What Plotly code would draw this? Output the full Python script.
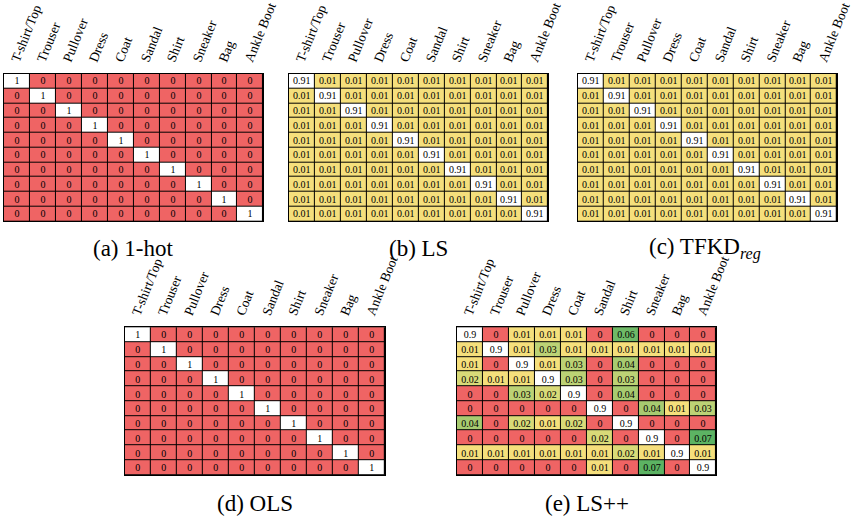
import plotly.graph_objects as go

categories = ["T-shirt/Top", "Trouser", "Pullover", "Dress", "Coat",
              "Sandal", "Shirt", "Sneaker", "Bag", "Ankle Boot"]

onehot = [
    [1, 0, 0, 0, 0, 0, 0, 0, 0, 0],
    [0, 1, 0, 0, 0, 0, 0, 0, 0, 0],
    [0, 0, 1, 0, 0, 0, 0, 0, 0, 0],
    [0, 0, 0, 1, 0, 0, 0, 0, 0, 0],
    [0, 0, 0, 0, 1, 0, 0, 0, 0, 0],
    [0, 0, 0, 0, 0, 1, 0, 0, 0, 0],
    [0, 0, 0, 0, 0, 0, 1, 0, 0, 0],
    [0, 0, 0, 0, 0, 0, 0, 1, 0, 0],
    [0, 0, 0, 0, 0, 0, 0, 0, 1, 0],
    [0, 0, 0, 0, 0, 0, 0, 0, 0, 1],
]

ls = [
    [0.91, 0.01, 0.01, 0.01, 0.01, 0.01, 0.01, 0.01, 0.01, 0.01],
    [0.01, 0.91, 0.01, 0.01, 0.01, 0.01, 0.01, 0.01, 0.01, 0.01],
    [0.01, 0.01, 0.91, 0.01, 0.01, 0.01, 0.01, 0.01, 0.01, 0.01],
    [0.01, 0.01, 0.01, 0.91, 0.01, 0.01, 0.01, 0.01, 0.01, 0.01],
    [0.01, 0.01, 0.01, 0.01, 0.91, 0.01, 0.01, 0.01, 0.01, 0.01],
    [0.01, 0.01, 0.01, 0.01, 0.01, 0.91, 0.01, 0.01, 0.01, 0.01],
    [0.01, 0.01, 0.01, 0.01, 0.01, 0.01, 0.91, 0.01, 0.01, 0.01],
    [0.01, 0.01, 0.01, 0.01, 0.01, 0.01, 0.01, 0.91, 0.01, 0.01],
    [0.01, 0.01, 0.01, 0.01, 0.01, 0.01, 0.01, 0.01, 0.91, 0.01],
    [0.01, 0.01, 0.01, 0.01, 0.01, 0.01, 0.01, 0.01, 0.01, 0.91],
]

tfkd = [
    [0.91, 0.01, 0.01, 0.01, 0.01, 0.01, 0.01, 0.01, 0.01, 0.01],
    [0.01, 0.91, 0.01, 0.01, 0.01, 0.01, 0.01, 0.01, 0.01, 0.01],
    [0.01, 0.01, 0.91, 0.01, 0.01, 0.01, 0.01, 0.01, 0.01, 0.01],
    [0.01, 0.01, 0.01, 0.91, 0.01, 0.01, 0.01, 0.01, 0.01, 0.01],
    [0.01, 0.01, 0.01, 0.01, 0.91, 0.01, 0.01, 0.01, 0.01, 0.01],
    [0.01, 0.01, 0.01, 0.01, 0.01, 0.91, 0.01, 0.01, 0.01, 0.01],
    [0.01, 0.01, 0.01, 0.01, 0.01, 0.01, 0.91, 0.01, 0.01, 0.01],
    [0.01, 0.01, 0.01, 0.01, 0.01, 0.01, 0.01, 0.91, 0.01, 0.01],
    [0.01, 0.01, 0.01, 0.01, 0.01, 0.01, 0.01, 0.01, 0.91, 0.01],
    [0.01, 0.01, 0.01, 0.01, 0.01, 0.01, 0.01, 0.01, 0.01, 0.91],
]

ols = [
    [1, 0, 0, 0, 0, 0, 0, 0, 0, 0],
    [0, 1, 0, 0, 0, 0, 0, 0, 0, 0],
    [0, 0, 1, 0, 0, 0, 0, 0, 0, 0],
    [0, 0, 0, 1, 0, 0, 0, 0, 0, 0],
    [0, 0, 0, 0, 1, 0, 0, 0, 0, 0],
    [0, 0, 0, 0, 0, 1, 0, 0, 0, 0],
    [0, 0, 0, 0, 0, 0, 1, 0, 0, 0],
    [0, 0, 0, 0, 0, 0, 0, 1, 0, 0],
    [0, 0, 0, 0, 0, 0, 0, 0, 1, 0],
    [0, 0, 0, 0, 0, 0, 0, 0, 0, 1],
]

lspp = [
    [0.9, 0, 0.01, 0.01, 0.01, 0, 0.06, 0, 0, 0],
    [0.01, 0.9, 0.01, 0.03, 0.01, 0.01, 0.01, 0.01, 0.01, 0.01],
    [0.01, 0, 0.9, 0.01, 0.03, 0, 0.04, 0, 0, 0],
    [0.02, 0.01, 0.01, 0.9, 0.03, 0, 0.03, 0, 0, 0],
    [0, 0, 0.03, 0.02, 0.9, 0, 0.04, 0, 0, 0],
    [0, 0, 0, 0, 0, 0.9, 0, 0.04, 0.01, 0.03],
    [0.04, 0, 0.02, 0.01, 0.02, 0, 0.9, 0, 0, 0],
    [0, 0, 0, 0, 0, 0.02, 0, 0.9, 0, 0.07],
    [0.01, 0.01, 0.01, 0.01, 0.01, 0.01, 0.02, 0.01, 0.9, 0.01],
    [0, 0, 0, 0, 0, 0.01, 0, 0.07, 0, 0.9],
]

captions = ["(a) 1-hot", "(b) LS", "(c) TFKD<sub><i>reg</i></sub>", "(d) OLS", "(e) LS++"]

# colour classes: white (target), red (0), yellow (0.01), greens for larger
palette = ["#FFFFFF", "#EF6464", "#F5DF7C", "#D9DA78", "#BCD275",
           "#A7CB70", "#6FBA67", "#5CB363"]
levels = [0.0, 0.01, 0.02, 0.03, 0.04, 0.06, 0.07]


def cls(v):
    if v >= 0.5:
        return 0
    best = min(range(len(levels)), key=lambda i: abs(levels[i] - v))
    return best + 1


n = len(palette)
colorscale = []
for i, c in enumerate(palette):
    colorscale.append([i / n, c])
    colorscale.append([(i + 1) / n, c])

SERIF = "Liberation Serif"

# panel boxes in pixels: (x0, x1, y0, y1), caption centre
W, H = 860, 519
panels = [
    (onehot, (4, 268, 64, 215), 135, 243),
    (ls, (294, 558, 64, 215), 426, 243),
    (tfkd, (588, 852, 64, 215), 718, 243),
    (ols, (127, 392, 323, 474), 260, 503),
    (lspp, (465, 729, 323, 474), 597, 503),
]

fig = go.Figure()
layout = dict(width=W, height=H, margin=dict(l=0, r=0, t=0, b=0),
              paper_bgcolor="white", plot_bgcolor="black",
              showlegend=False, annotations=[])

for k, (mat, (x0, x1, y0, y1), cx, cy) in enumerate(panels):
    idx = "" if k == 0 else str(k + 1)
    z = [[cls(v) for v in row] for row in mat]
    txt = [[f"{v:g}" for v in row] for row in mat]
    fig.add_trace(go.Heatmap(
        z=z, x=categories, y=list(range(10)), text=txt,
        texttemplate="%{text}",
        textfont=dict(family=SERIF, size=10, color="black"),
        colorscale=colorscale, zmin=-0.5, zmax=n - 0.5, showscale=False,
        xgap=1, ygap=1, hoverinfo="skip",
        xaxis="x" + idx, yaxis="y" + idx))
    layout["xaxis" + idx] = dict(
        domain=[x0 / W, x1 / W], anchor="y" + idx, side="top",
        tickangle=-68, showgrid=False, zeroline=False, ticks="",
        ticklabelshift=-4,
        tickfont=dict(family=SERIF, size=13.5, color="black"),
        showline=True, mirror=True, linecolor="black", linewidth=1,
        fixedrange=True)
    layout["yaxis" + idx] = dict(
        domain=[1 - y1 / H, 1 - y0 / H], anchor="x" + idx,
        autorange="reversed", showticklabels=False, showgrid=False,
        zeroline=False, ticks="", showline=True, mirror=True,
        linecolor="black", linewidth=1, fixedrange=True)
    layout["annotations"].append(dict(
        text=captions[k], x=cx / W, y=1 - cy / H, xref="paper", yref="paper",
        showarrow=False, xanchor="center", yanchor="middle",
        font=dict(family=SERIF, size=23, color="black")))

fig.update_layout(**layout)
fig.write_html("out.html", config={"displayModeBar": False},
               post_script="document.body.style.margin='0';")
